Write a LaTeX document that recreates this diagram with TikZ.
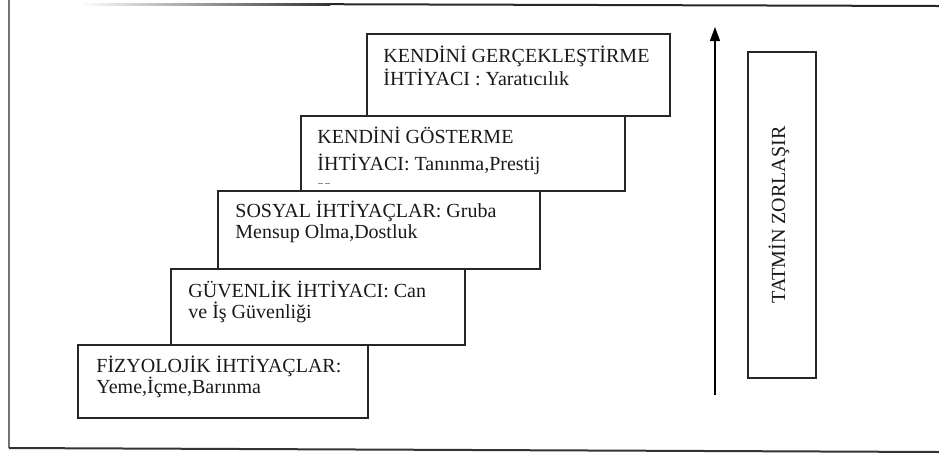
\documentclass[tikz,border=0pt]{standalone}
\usepackage{fontspec}
\setmainfont{Liberation Serif}
\usetikzlibrary{arrows.meta}
\begin{document}
\begin{tikzpicture}[x=0.5pt,y=-0.5pt,
  stair/.style={draw=black!85,line width=0.9pt},
  lbl/.style={anchor=base west,inner sep=0pt,font=\fontsize{10}{12}\selectfont,text=black!90},
  frameline/.style={line width=1pt,draw=black!70}]
\useasboundingbox (0,0) rectangle (939,457);

% outer frame (left, top, bottom)
\draw[frameline,draw=black!55] (9,0) -- (9,448);
\shade[left color=white,right color=black!80] (80,3.5) rectangle (330,5);
\draw[frameline,draw=black!85] (330,4.2) -- (939,6);
\draw[frameline,draw=black!80] (9,448) -- (939,452);

% steps of the hierarchy
\draw[stair] (367,34) rectangle (670,116);
\draw[stair] (301,116) rectangle (625,191);
\draw[stair] (218,191) rectangle (540,269);
\draw[stair] (171,269) rectangle (465,345);
\draw[stair] (78,345) rectangle (368,418);

\node[lbl] (s5a) at (383,62) {KENDİNİ GERÇEKLEŞTİRME};
\node[lbl] (s5b) at (383,85) {İHTİYACI : Yaratıcılık};

\node[lbl] (s4a) at (317,143) {KENDİNİ GÖSTERME};
\node[lbl] (s4b) at (317,170) {İHTİYACI: Tanınma,Prestij};
\draw[black!45,line width=0.5pt,dash pattern=on 2.5pt off 1pt] (318,183) -- (330,183);

\node[lbl] (s3a) at (235,217) {SOSYAL İHTİYAÇLAR: Gruba};
\node[lbl] (s3b) at (235,238) {Mensup Olma,Dostluk};

\node[lbl] (s2a) at (188,297) {GÜVENLİK İHTİYACI: Can};
\node[lbl] (s2b) at (188,318) {ve İş Güvenliği};

\node[lbl] (s1a) at (96,372) {FİZYOLOJİK İHTİYAÇLAR:};
\node[lbl] (s1b) at (96,393) {Yeme,İçme,Barınma};

% upward arrow
\coordinate (arrbot) at (715,395);
\coordinate (arrtop) at (715,27);
\draw[line width=0.6pt,-{Triangle[length=7pt,width=5pt]}] (arrbot) -- (arrtop);

% vertical label box
\draw[stair] (748,52) rectangle (816,378);
\node[inner sep=0pt,rotate=90,font=\fontsize{10}{12}\selectfont,text=black!90] (tz) at (779,215) {TATMİN ZORLAŞIR};
\end{tikzpicture}
\end{document}
